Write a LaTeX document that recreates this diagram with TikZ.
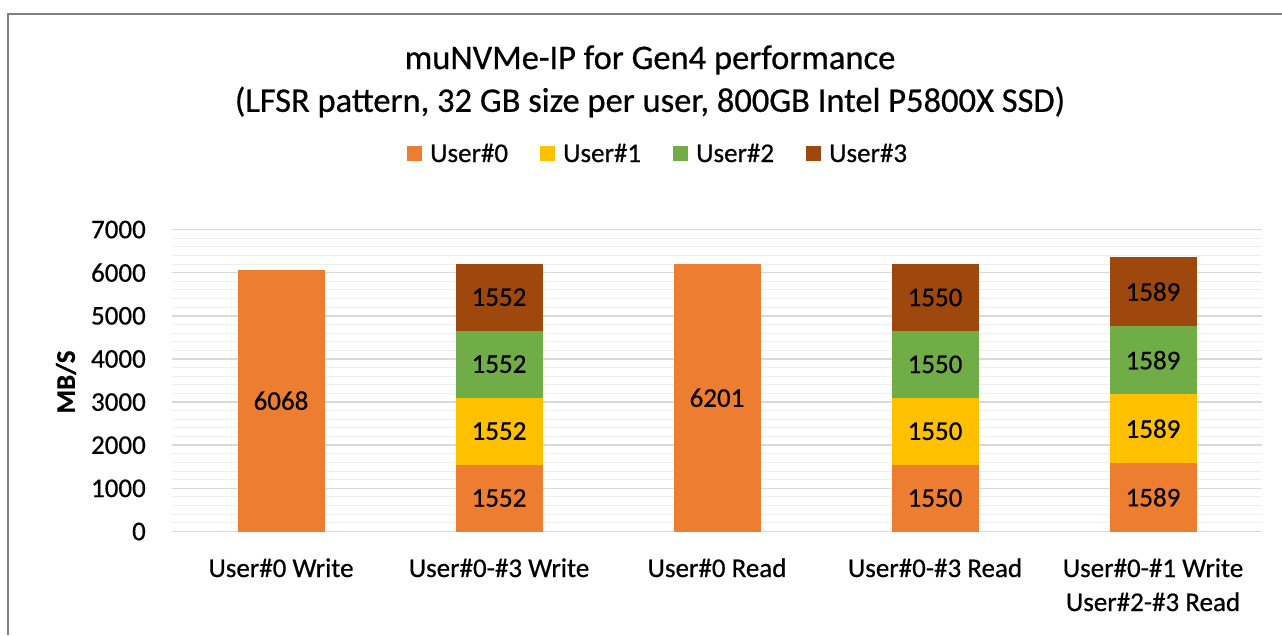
\documentclass[tikz,border=0pt]{standalone}
\usepackage{fontspec}
\setmainfont{Carlito}[RawFeature={embolden=0.6}]
\definecolor{uzero}{HTML}{ED7D31}
\definecolor{uone}{HTML}{FFC000}
\definecolor{utwo}{HTML}{70AD47}
\definecolor{uthree}{HTML}{9E480E}
\definecolor{gridmajor}{HTML}{D9D9D9}
\definecolor{gridminor}{HTML}{EFEFEF}
\definecolor{frame}{HTML}{808080}
% value (MB/s) -> vertical pixel position
\newcommand\ypos[1]{531.5-0.04314*(#1)}
% one stacked segment: name, x centre, base value, value, colour, label
\newcommand\barseg[6]{%
  \node[seg, fill=#5, minimum height={0.04314pt*(#4)}] (#1)
    at (#2, {\ypos{#3+(#4)/2}}) {#6};}
\tikzset{
  seg/.style={draw=none, inner sep=0pt, outer sep=0pt, minimum width=87pt,
    font=\fontsize{27}{32}\selectfont, text=black},
  ticklabel/.style={anchor=east, inner sep=0pt, font=\fontsize{27}{32}\selectfont},
  catlabel/.style={anchor=base, inner sep=0pt, align=center,
    font=\fontsize{27}{34}\selectfont},
  legbox/.style={draw=none, inner sep=0pt, minimum size=15pt},
  legtext/.style={anchor=west, inner sep=0pt, font=\fontsize{27}{32}\selectfont},
  titletext/.style={inner sep=0pt, font=\fontsize{34.5}{40}\selectfont},
}
\begin{document}
\begin{tikzpicture}[x=1pt,y=-1pt]
\useasboundingbox (0,0) rectangle (1282,635);
\fill[white] (0,0) rectangle (1282,635);
% chart frame (left and top edges)
\draw[frame, line width=2pt] (8,635) -- (8,14) -- (1282,14);

% grid
\foreach \v in {200,400,...,6800}{
  \draw[gridminor, line width=1pt] (172,{\ypos{\v}}) -- (1262,{\ypos{\v}});
}
\foreach \v in {0,1000,...,7000}{
  \draw[gridmajor, line width=1.5pt] (172,{\ypos{\v}}) -- (1262,{\ypos{\v}});
  \node[ticklabel] (tick\v) at (146,{\ypos{\v}}) {\v};
}

% axis title
\node[rotate=90, inner sep=0pt, font=\fontsize{27}{32}\selectfont\bfseries] (ytitle) at (66,382) {MB/S};

% bars
\barseg{a0}{281}{0}{6068}{uzero}{6068}

\barseg{b0}{499}{0}{1552}{uzero}{1552}
\barseg{b1}{499}{1552}{1552}{uone}{1552}
\barseg{b2}{499}{3104}{1552}{utwo}{1552}
\barseg{b3}{499}{4656}{1552}{uthree}{1552}

\barseg{c0}{717}{0}{6201}{uzero}{6201}

\barseg{d0}{935}{0}{1550}{uzero}{1550}
\barseg{d1}{935}{1550}{1550}{uone}{1550}
\barseg{d2}{935}{3100}{1550}{utwo}{1550}
\barseg{d3}{935}{4650}{1550}{uthree}{1550}

\barseg{e0}{1153}{0}{1589}{uzero}{1589}
\barseg{e1}{1153}{1589}{1589}{uone}{1589}
\barseg{e2}{1153}{3178}{1589}{utwo}{1589}
\barseg{e3}{1153}{4767}{1589}{uthree}{1589}

% category labels (base anchor of a two-line label is its last line)
\node[catlabel] (ca) at (281,577) {User\#0 Write};
\node[catlabel] (cb) at (499,577) {User\#0-\#3 Write};
\node[catlabel] (cc) at (717,577) {User\#0 Read};
\node[catlabel] (cd) at (935,577) {User\#0-\#3 Read};
\node[catlabel] (ce) at (1153,611) {User\#0-\#1 Write\\User\#2-\#3 Read};

% title
\node[titletext] (t1) at (650,60) {muNVMe-IP for Gen4 performance};
\node[titletext] (t2) at (650,102) {(LFSR pattern, 32 GB size per user, 800GB Intel P5800X SSD)};

% legend
\node[legbox, fill=uzero] (k0) at (414.5,153) {};
\node[legtext] (l0) at (430,153) {User\#0};
\node[legbox, fill=uone] (k1) at (547,153) {};
\node[legtext] (l1) at (563,153) {User\#1};
\node[legbox, fill=utwo] (k2) at (680,153) {};
\node[legtext] (l2) at (696,153) {User\#2};
\node[legbox, fill=uthree] (k3) at (813,153) {};
\node[legtext] (l3) at (829,153) {User\#3};
\end{tikzpicture}
\end{document}
